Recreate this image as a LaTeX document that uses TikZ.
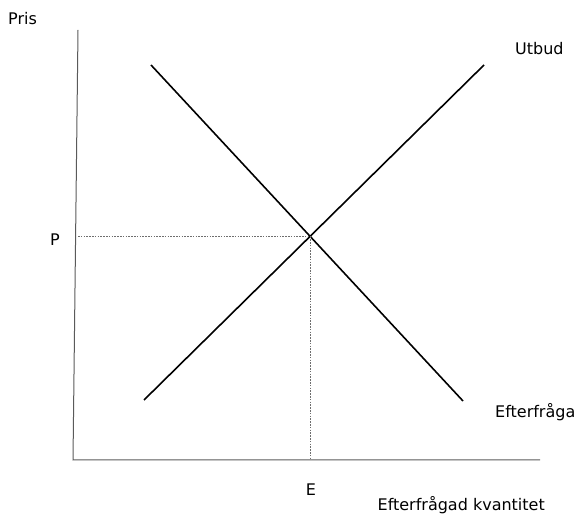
\documentclass[tikz,border=0pt]{standalone}
\usepackage{fontspec}
\setmainfont{DejaVu Sans}
\usetikzlibrary{positioning}
\definecolor{axiscol}{RGB}{90,90,90}
\definecolor{guidecol}{RGB}{110,110,110}
\tikzset{
  axis/.style={line width=1pt, color=axiscol},
  curve/.style={line width=1.6pt, color=black},
  guide/.style={line width=0.8pt, color=guidecol, dash pattern=on 1.6pt off 1.2pt},
  lbl/.style={font=\fontsize{16}{18}\selectfont, inner sep=0pt},
}

\begin{document}
\begin{tikzpicture}[x=1pt, y=-1pt]

  \useasboundingbox (0,0) rectangle (587,518);

  % axes
  \coordinate (ytop)   at (78,30);
  \coordinate (origin) at (73,460);
  \coordinate (xend)   at (540,460);
  \draw[axis] (ytop) -- (origin) -- (xend);

  % curves
  \coordinate (dtop) at (151,65);
  \coordinate (dbot) at (463,401);
  \coordinate (stop) at (484,65);
  \coordinate (sbot) at (144,400);
  \draw[curve] (dtop) -- (dbot);
  \draw[curve] (sbot) -- (stop);

  % equilibrium and guides
  \coordinate (eq)   at (310,236);
  \coordinate (peq)  at (78,236);
  \coordinate (qeq)  at (310,460);
  \draw[guide] (peq) -- (eq) -- (qeq);

  % labels
  \node[lbl, anchor=base west] (pris) at (8,25) {Pris};
  \node[lbl, anchor=base west] (utbud) at (515,55) {Utbud};
  \node[lbl, anchor=base] (plbl) at (55,246) {P};
  \node[lbl, anchor=base west] (efter) at (495,418) {Efterfråga};
  \node[lbl, anchor=base] (elbl) at (311,496) {E};
  \node[lbl, anchor=base east] (kvant) at (545,511) {Efterfrågad kvantitet};

\end{tikzpicture}
\end{document}
